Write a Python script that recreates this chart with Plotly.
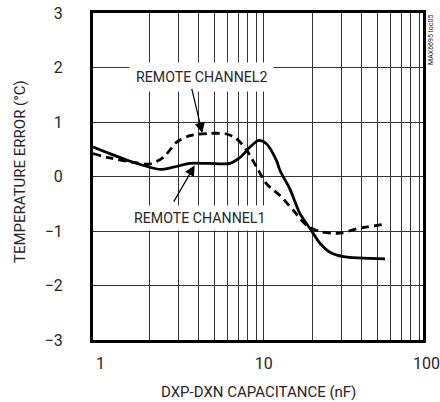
import plotly.graph_objects as go

# Data
ch1_x = [0.90, 1.14, 1.52, 2.01, 2.32, 2.79, 3.53, 4.58, 6.22, 7.17, 8.25, 9.28, 10.4,
         12.0, 12.6, 14.5, 16.7, 19.3, 22.2, 25.5, 30.8, 55.5]
ch1_y = [0.54, 0.42, 0.28, 0.17, 0.13, 0.17, 0.24, 0.24, 0.24, 0.35, 0.54, 0.66, 0.60,
         0.29, 0.11, -0.23, -0.68, -0.96, -1.23, -1.39, -1.47, -1.51]

ch2_x = [0.90, 1.14, 1.59, 2.01, 2.43, 2.93, 3.53, 4.58, 5.94, 6.84, 7.88, 9.07, 10.4,
         12.6, 15.2, 18.4, 22.2, 29.4, 37.2, 54.2]
ch2_y = [0.42, 0.34, 0.26, 0.23, 0.35, 0.63, 0.75, 0.79, 0.78, 0.69, 0.48, 0.17, -0.13,
         -0.35, -0.62, -0.90, -1.01, -1.04, -0.96, -0.88]

x_major = [1, 10]
x_major_text = ["1", "10"]
x_grid = [2, 3, 4, 5, 6, 7, 8, 9, 10, 20, 30, 40, 50, 60, 70, 80, 90]
y_ticks = [-3, -2, -1, 0, 1, 2, 3]

FONT = "Roboto, Liberation Sans, sans-serif"
TXT = "#262626"
XR = [-0.046, 1.977]

fig = go.Figure()
fig.add_trace(go.Scatter(x=ch1_x, y=ch1_y, mode="lines", name="REMOTE CHANNEL1",
                         line=dict(color="black", width=2.8, shape="spline", smoothing=0.8)))
fig.add_trace(go.Scatter(x=ch2_x, y=ch2_y, mode="lines", name="REMOTE CHANNEL2",
                         line=dict(color="black", width=2.8, dash="8px,5px", shape="spline", smoothing=0.8)))

fig.update_layout(
    template="none",
    width=440, height=402,
    margin=dict(l=93, r=17, t=13, b=62),
    paper_bgcolor="white", plot_bgcolor="white",
    showlegend=False,
    font=dict(family=FONT, color=TXT, size=16),
)
fig.update_xaxes(
    type="log", range=XR, automargin=False,
    tickmode="array", tickvals=x_major, ticktext=x_major_text,
    showgrid=False, ticks="", ticklabelstandoff=7,
    tickfont=dict(size=16, family=FONT, color=TXT),
    minor=dict(tickmode="array", tickvals=x_grid, showgrid=True,
               gridcolor="#333333", gridwidth=1, ticks=""),
    showline=True, linecolor="black", linewidth=3, mirror=True,
    zeroline=False,
)
fig.update_yaxes(
    range=[-3, 3], automargin=False, tickmode="array", tickvals=y_ticks,
    showgrid=True, gridcolor="#333333", gridwidth=1, ticks="", ticklabelstandoff=24,
    tickfont=dict(size=16, family=FONT, color=TXT),
    showline=True, linecolor="black", linewidth=3, mirror=True,
    zeroline=False,
)

# Axis titles
fig.add_annotation(x=0.5, y=-0.158, xref="paper", yref="paper", text="DXP-DXN CAPACITANCE (nF)",
                   showarrow=False, xanchor="center", yanchor="middle",
                   font=dict(size=15, family=FONT, color=TXT))
fig.add_annotation(x=-0.221, y=0.514, xref="paper", yref="paper", text="TEMPERATURE ERROR (°C)",
                   showarrow=False, textangle=-90, xanchor="center", yanchor="middle",
                   font=dict(size=15, family=FONT, color=TXT))

# "100" tick label at the right end (just past the plotted range)
fig.add_annotation(x=(2 - XR[0]) / (XR[1] - XR[0]), y=0, xref="paper", yref="paper", text="100",
                   showarrow=False, xanchor="center", yanchor="top", yshift=-12,
                   font=dict(size=16, family=FONT, color=TXT))

# Curve labels with white boxes
fig.add_annotation(x=0.62, y=1.83, xref="x", yref="y", text="REMOTE CHANNEL2",
                   showarrow=False, bgcolor="white", borderpad=6,
                   font=dict(size=14.2, family=FONT, color=TXT))
fig.add_annotation(x=0.608, y=-0.76, xref="x", yref="y", text="REMOTE CHANNEL1",
                   showarrow=False, bgcolor="white", borderpad=4,
                   font=dict(size=14.2, family=FONT, color=TXT))
# Arrows
fig.add_annotation(x=0.624, y=0.80, xref="x", yref="y", text=" ", font=dict(size=1),
                   showarrow=True, arrowhead=2, arrowsize=1.7, arrowwidth=1.2, arrowcolor="black",
                   ax=-11, ay=-46, standoff=0)
fig.add_annotation(x=0.577, y=0.20, xref="x", yref="y", text=" ", font=dict(size=1),
                   showarrow=True, arrowhead=2, arrowsize=1.7, arrowwidth=1.2, arrowcolor="black",
                   ax=-22, ay=38, standoff=0)

# Side code
fig.add_annotation(x=1.0, y=1.0, xref="paper", yref="paper", text="MAX6695 toc05",
                   showarrow=False, textangle=-90, xanchor="center", yanchor="top",
                   xshift=8, yshift=0, font=dict(size=7, family=FONT, color=TXT))

fig.write_html("out.html", config={"displayModeBar": False},
               post_script="document.body.style.margin='0';")
